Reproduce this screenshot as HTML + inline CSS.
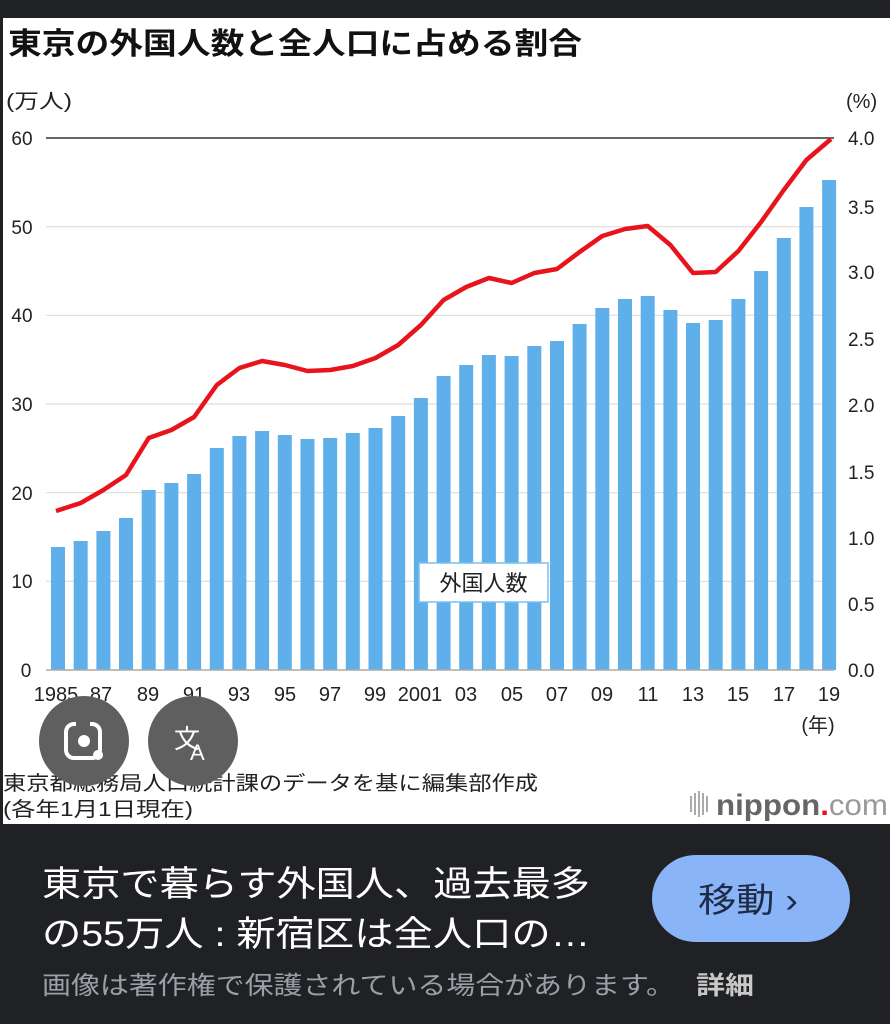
<!DOCTYPE html>
<html><head><meta charset="utf-8"><style>
html,body{margin:0;padding:0;background:#202124;width:890px;height:1024px;overflow:hidden}
svg{display:block}
text{font-family:"Liberation Sans","Noto Sans CJK JP",sans-serif}
</style></head><body>
<svg width="890" height="1024" viewBox="0 0 890 1024" xmlns="http://www.w3.org/2000/svg">
<rect x="0" y="0" width="890" height="1024" fill="#202124"/>
<rect x="3" y="18" width="887" height="806" fill="#ffffff"/>
<text x="8" y="54" font-size="30" font-weight="bold" fill="#111" textLength="574" lengthAdjust="spacingAndGlyphs">東京の外国人数と全人口に占める割合</text>
<text x="6" y="108" font-size="20" fill="#222" textLength="66" lengthAdjust="spacingAndGlyphs">(万人)</text>
<text x="846" y="108" font-size="20" fill="#222">(%)</text>
<g stroke="#ddd" stroke-width="1.2">
<line x1="46" y1="226.7" x2="834" y2="226.7"/><line x1="46" y1="315.3" x2="834" y2="315.3"/>
<line x1="46" y1="404" x2="834" y2="404"/><line x1="46" y1="492.7" x2="834" y2="492.7"/>
<line x1="46" y1="581.3" x2="834" y2="581.3"/></g>
<line x1="46" y1="138" x2="834" y2="138" stroke="#666" stroke-width="2"/>
<g font-size="19" fill="#222" text-anchor="middle">
<text x="22" y="145">60</text><text x="22" y="234">50</text><text x="22" y="322">40</text>
<text x="22" y="411">30</text><text x="22" y="500">20</text><text x="22" y="588">10</text><text x="26" y="677">0</text>
</g>
<g font-size="19" fill="#222">
<text x="848" y="145">4.0</text><text x="848" y="214">3.5</text><text x="848" y="279">3.0</text>
<text x="848" y="346">2.5</text><text x="848" y="412">2.0</text><text x="848" y="479">1.5</text>
<text x="848" y="545">1.0</text><text x="848" y="611">0.5</text><text x="848" y="677">0.0</text>
</g>
<g fill="#5fb0ea">
<rect x="51" y="547" width="14" height="123"/><rect x="73.7" y="541" width="14" height="129"/>
<rect x="96.4" y="531" width="14" height="139"/><rect x="119" y="518" width="14" height="152"/>
<rect x="141.7" y="490" width="14" height="180"/><rect x="164.4" y="483" width="14" height="187"/>
<rect x="187.1" y="474" width="14" height="196"/><rect x="209.8" y="448" width="14" height="222"/>
<rect x="232.4" y="436" width="14" height="234"/><rect x="255.1" y="431" width="14" height="239"/>
<rect x="277.8" y="435" width="14" height="235"/><rect x="300.5" y="439" width="14" height="231"/>
<rect x="323.2" y="438" width="14" height="232"/><rect x="345.8" y="433" width="14" height="237"/>
<rect x="368.5" y="428" width="14" height="242"/><rect x="391.2" y="416" width="14" height="254"/>
<rect x="413.9" y="398" width="14" height="272"/><rect x="436.6" y="376" width="14" height="294"/>
<rect x="459.2" y="365" width="14" height="305"/><rect x="481.9" y="355" width="14" height="315"/>
<rect x="504.6" y="356" width="14" height="314"/><rect x="527.3" y="346" width="14" height="324"/>
<rect x="550" y="341" width="14" height="329"/><rect x="572.6" y="324" width="14" height="346"/>
<rect x="595.3" y="308" width="14" height="362"/><rect x="618" y="299" width="14" height="371"/>
<rect x="640.7" y="296" width="14" height="374"/><rect x="663.4" y="310" width="14" height="360"/>
<rect x="686" y="323" width="14" height="347"/><rect x="708.7" y="320" width="14" height="350"/>
<rect x="731.4" y="299" width="14" height="371"/><rect x="754.1" y="271" width="14" height="399"/>
<rect x="776.8" y="238" width="14" height="432"/><rect x="799.4" y="207" width="14" height="463"/>
<rect x="822.1" y="180" width="14" height="490"/>
</g>
<line x1="46" y1="670" x2="834" y2="670" stroke="#aaa" stroke-width="1.5"/>
<polyline fill="none" stroke="#e8141c" stroke-width="4.5" stroke-linejoin="round" points="56,511 80.7,503 103.4,490 126,475 148.7,438 171.4,430 194.1,417 216.8,385 239.4,368 262.1,361 284.8,365 307.5,371 330.2,370 352.8,366 375.5,358 398.2,345 420.9,325 443.6,300 466.2,287 488.9,278 511.6,283 534.3,273 557,269 579.6,252 602.3,236 625,229 647.7,226 670.4,245 693,273 715.7,272 738.4,251 761.1,222 783.8,190 806.4,160 831,139"/>
<rect x="419" y="563" width="129" height="39" fill="#fff" stroke="#7fbfee" stroke-width="1.5"/>
<text x="483.5" y="591" font-size="22" fill="#222" text-anchor="middle">外国人数</text>
<g font-size="20" fill="#222" text-anchor="middle">
<text x="56" y="701">1985</text><text x="101" y="701">87</text><text x="148" y="701">89</text>
<text x="194" y="701">91</text><text x="239" y="701">93</text><text x="285" y="701">95</text>
<text x="330" y="701">97</text><text x="375" y="701">99</text><text x="420" y="701">2001</text>
<text x="466" y="701">03</text><text x="512" y="701">05</text><text x="557" y="701">07</text>
<text x="602" y="701">09</text><text x="648" y="701">11</text><text x="693" y="701">13</text>
<text x="738" y="701">15</text><text x="784" y="701">17</text><text x="829" y="701">19</text>
<text x="818" y="732">(年)</text>
</g>
<text x="3" y="790" font-size="20" fill="#222" textLength="535" lengthAdjust="spacingAndGlyphs">東京都総務局人口統計課のデータを基に編集部作成</text>
<text x="3" y="816" font-size="20" fill="#222" textLength="190" lengthAdjust="spacingAndGlyphs">(各年1月1日現在)</text>
<g fill="#aaa"><rect x="690" y="796" width="2" height="16"/><rect x="694" y="793" width="2" height="22"/><rect x="698" y="791" width="2" height="26"/><rect x="702" y="793" width="2" height="22"/><rect x="706" y="796" width="2" height="16"/></g>
<text x="716" y="815" font-size="30" font-weight="bold" fill="#666" textLength="172" lengthAdjust="spacingAndGlyphs">nippon<tspan fill="#e8141c">.</tspan><tspan font-weight="normal" fill="#999">com</tspan></text>
<circle cx="84" cy="741" r="45" fill="#5f5f5f"/>
<rect x="66" y="724" width="34" height="34" rx="8" fill="none" stroke="#fff" stroke-width="4"/>
<rect x="76" y="720" width="14" height="10" fill="#5f5f5f"/>
<circle cx="84" cy="741" r="6" fill="#fff"/><circle cx="98" cy="755" r="5" fill="#fff"/>
<circle cx="193" cy="741" r="45" fill="#5f5f5f"/>
<text x="174" y="748" font-size="26" fill="#fff">文</text><text x="190" y="760" font-size="22" fill="#fff">A</text>
<text x="42" y="896" font-size="35" fill="#fff" textLength="548" lengthAdjust="spacingAndGlyphs">東京で暮らす外国人、過去最多</text>
<text x="42" y="946" font-size="35" fill="#fff" textLength="548" lengthAdjust="spacingAndGlyphs">の55万人 : 新宿区は全人口の…</text>
<text x="42" y="994" font-size="25" fill="#9aa0a6" textLength="633" lengthAdjust="spacingAndGlyphs">画像は著作権で保護されている場合があります。</text>
<text x="696" y="994" font-size="25" font-weight="bold" fill="#c8c8c8" textLength="58" lengthAdjust="spacingAndGlyphs">詳細</text>
<rect x="652" y="855" width="198" height="87" rx="43.5" fill="#8ab4f8"/>
<text x="698" y="912" font-size="34" fill="#1f2a44" textLength="100" lengthAdjust="spacingAndGlyphs">移動 ›</text>
</svg>
</body></html>
